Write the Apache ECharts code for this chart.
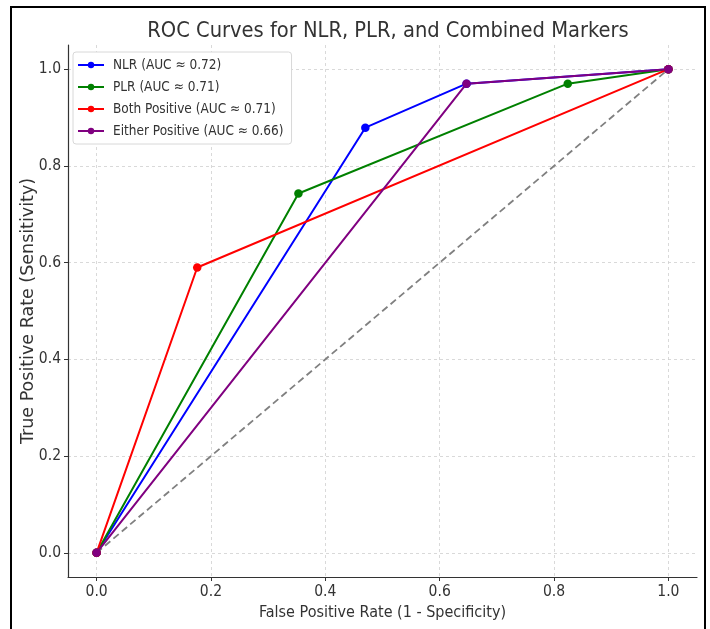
<!DOCTYPE html>
<html>
<head>
    <meta charset="utf-8">
    <title>ROC Curves</title>
    <script src="https://cdn.jsdelivr.net/npm/echarts@6/dist/echarts.min.js"></script>
    <style>
        html, body { margin: 0; padding: 0; background: #fff; }
        #chart { width: 710px; height: 629px; }
    </style>
</head>
<body>
<div id="chart"></div>
<script>
    // ROC points
    var nlr_fpr = [0, 0.47, 0.647, 1];
    var nlr_tpr = [0, 0.879, 0.97, 1];
    var plr_fpr = [0, 0.353, 0.824, 1];
    var plr_tpr = [0, 0.743, 0.97, 1];
    var both_fpr = [0, 0.176, 1];
    var both_tpr = [0, 0.59, 1];
    var either_fpr = [0, 0.647, 1];
    var either_tpr = [0, 0.97, 1];
    var chance_fpr = [0, 1];
    var chance_tpr = [0, 1];

    var tick_values = [0, 0.2, 0.4, 0.6, 0.8, 1.0];
    var names = ['NLR (AUC ≈ 0.72)', 'PLR (AUC ≈ 0.71)', 'Both Positive (AUC ≈ 0.71)', 'Either Positive (AUC ≈ 0.66)'];

    function pairs(xs, ys) {
        var out = [];
        for (let i = 0; i < xs.length; i++) {
            out.push([xs[i], ys[i]]);
        }
        return out;
    }

    var font = "'DejaVu Sans Condensed', 'DejaVu Sans', sans-serif";

    function axis(name, gap, nameFont, nameSize) {
        return {
            type: 'value',
            min: -0.05,
            max: 1.05,
            name: name,
            nameLocation: 'middle',
            nameGap: gap,
            nameMoveOverlap: false,
            nameTextStyle: { fontFamily: nameFont, fontSize: nameSize, color: '#333' },
            axisLine: { show: true, onZero: false, lineStyle: { color: '#333', width: 1.2 } },
            axisTick: { show: true, length: 4, customValues: tick_values, lineStyle: { color: '#333' } },
            axisLabel: {
                customValues: tick_values,
                fontFamily: font,
                fontSize: 15.5,
                color: '#333',
                margin: 7,
                formatter: function (v) { return v.toFixed(1); }
            },
            splitLine: { show: true, lineStyle: { color: '#d0d0d0', type: [3, 3], width: 0.8 } }
        };
    }

    var chart = echarts.init(document.getElementById('chart'));
    var line_series = function (name, color, data) {
        return {
            name: name,
            type: 'line',
            data: data,
            color: color,
            symbol: 'circle',
            symbolSize: 8.5,
            lineStyle: { width: 2, color: color },
            itemStyle: { color: color },
            animation: false
        };
    };

    var option = {
        backgroundColor: '#fff',
        title: {
            text: 'ROC Curves for NLR, PLR, and Combined Markers',
            left: 383,
            textAlign: 'center',
            top: 15,
            textStyle: { fontFamily: font, fontSize: 21.7, fontWeight: 'normal', color: '#333' }
        },
        legend: {
            orient: 'vertical',
            left: 73,
            top: 52,
            itemWidth: 26,
            itemHeight: 8,
            itemGap: 8,
            padding: [6, 8, 6, 4],
            backgroundColor: '#fff',
            borderColor: '#d8d8d8',
            borderWidth: 1,
            borderRadius: 3,
            textStyle: { fontFamily: font, fontSize: 13.5, color: '#333', padding: [0, 0, 0, 4] },
            data: names
        },
        grid: { left: 68, top: 45, width: 629, height: 532 },
        xAxis: axis('False Positive Rate (1 - Specificity)', 28, font, 16),
        yAxis: axis('True Positive Rate (Sensitivity)', 31, "'DejaVu Sans', sans-serif", 17.5),
        graphic: [{
            type: 'rect',
            shape: { x: 11, y: 7, width: 694, height: 640 },
            style: { fill: null, stroke: '#000', lineWidth: 2 },
            silent: true
        }],
        series: [
            line_series(names[0], '#0000ff', pairs(nlr_fpr, nlr_tpr)),
            line_series(names[1], '#008000', pairs(plr_fpr, plr_tpr)),
            line_series(names[2], '#ff0000', pairs(both_fpr, both_tpr)),
            line_series(names[3], '#800080', pairs(either_fpr, either_tpr)),
            {
                type: 'line',
                data: pairs(chance_fpr, chance_tpr),
                symbol: 'none',
                lineStyle: { color: '#808080', width: 1.8, type: [7, 4] },
                animation: false,
                z: 1
            }
        ]
    };

    chart.setOption(option);
</script>
</body>
</html>
